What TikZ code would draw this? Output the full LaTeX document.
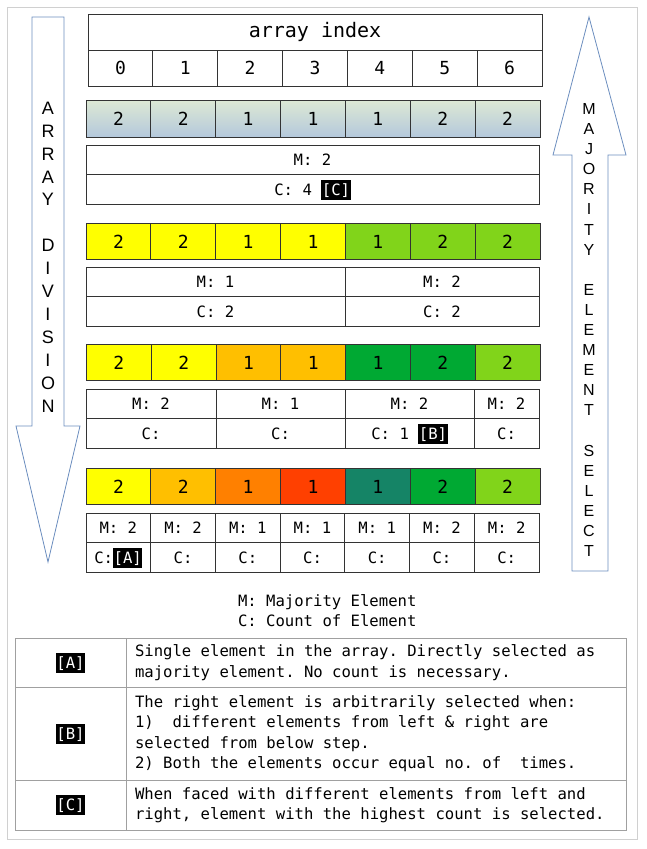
\documentclass[tikz,border=0pt]{standalone}
\usepackage{fontspec}
\setmonofont{DejaVu Sans Mono}
\newfontfamily\arrowfont{Liberation Sans}
\definecolor{lyellow}{HTML}{FFFF00}
\definecolor{lgold}{HTML}{FFBF00}
\definecolor{lorange}{HTML}{FF8000}
\definecolor{lbrick}{HTML}{FF4000}
\definecolor{lteal}{HTML}{158466}
\definecolor{lgreen}{HTML}{00A933}
\definecolor{llime}{HTML}{81D41A}
\definecolor{gtop}{HTML}{DCE8D4}
\definecolor{gbot}{HTML}{B4C8DC}
\definecolor{arrowblue}{HTML}{6C8EBF}
\definecolor{framegray}{HTML}{D0D0D0}
\definecolor{tablegray}{HTML}{A0A0A0}
\definecolor{cellline}{HTML}{333333}
\newcommand\monofont[2]{\ttfamily\fontsize{#1}{#2}\selectfont}
\newcommand\tagbox[1]{{\setlength\fboxsep{0pt}\colorbox{black}{\rule[-4.5pt]{0pt}{20pt}\kern0.6pt\textcolor{white}{#1}\kern0.6pt}}}
\begin{document}
\begin{tikzpicture}[x=1pt,y=-1pt,
  base/.style={inner sep=0pt, outer sep=0pt},
  hdcell/.style={base, draw=cellline, line width=1pt, minimum height=36pt, font=\monofont{18}{20}},
  valcell/.style={base, draw=cellline, line width=1pt, minimum width=64.857pt, minimum height=36.5pt, font=\monofont{18}{20}},
  mcell/.style={base, draw=cellline, line width=1pt, fill=white, minimum height=29.5pt, font=\monofont{15.6}{20}},
  lcell/.style={base, draw=tablegray, line width=0.9pt, font=\monofont{15.6}{20}},
  desc/.style={base, anchor=west, align=left, font=\monofont{15.6}{20.5}},
  arrowshape/.style={draw=arrowblue, line width=0.8pt, fill=white, line join=miter}
]
\useasboundingbox (0,0) rectangle (647,849);
\draw[framegray, line width=1pt] (7.5,7.5) rectangle (637.5,839.5);

% arrows
\draw[arrowshape] (32,17) -- (64,17) -- (64,426) -- (80,426) -- (48,562) -- (16,426) -- (32,426) -- cycle;
\node[base, align=center, font=\arrowfont\fontsize{18}{22.9}\selectfont] (divtext) at (48,257)
  {A\\R\\R\\A\\Y\\~\\D\\I\\V\\I\\S\\I\\O\\N};
\draw[arrowshape] (589,17) -- (626,155) -- (608,155) -- (608,571) -- (572,571) -- (572,155) -- (553,155) -- cycle;
\node[base, align=center, font=\arrowfont\fontsize{16}{20.1}\selectfont] (seltext) at (589,330)
  {M\\A\\J\\O\\R\\I\\T\\Y\\~\\E\\L\\E\\M\\E\\N\\T\\~\\S\\E\\L\\E\\C\\T};

% header
\node[hdcell, minimum width=454pt, font=\monofont{20}{22}] (hdr) at (315,32) {array index};
\foreach \v [count=\i from 0] in {0,1,2,3,4,5,6}
  \node[valcell, minimum height=36pt] (idx\i) at ({88+64.857*(\i+0.5)},68) {\v};

% row 1
\foreach \v [count=\i from 0] in {2,2,1,1,1,2,2}
  \node[valcell, top color=gtop, bottom color=gbot] (ra\i) at ({86+64.857*(\i+0.5)},119) {\v};
\node[mcell, minimum width=453pt] (ma) at (312.5,160) {M: 2};
\node[mcell, minimum width=453pt] (ca) at (312.5,189.5) {C: 4 \tagbox{[C]}};

% row 2
\foreach \v/\c [count=\i from 0] in {2/lyellow,2/lyellow,1/lyellow,1/lyellow,1/llime,2/llime,2/llime}
  \node[valcell, fill=\c] (rb\i) at ({86+64.857*(\i+0.5)},241.5) {\v};
\node[mcell, minimum width=259pt] (mb0) at (215.5,282) {M: 1};
\node[mcell, minimum width=259pt] (cb0) at (215.5,311.5) {C: 2};
\node[mcell, minimum width=194pt] (mb1) at (442,282) {M: 2};
\node[mcell, minimum width=194pt] (cb1) at (442,311.5) {C: 2};

% row 3
\foreach \v/\c [count=\i from 0] in {2/lyellow,2/lyellow,1/lgold,1/lgold,1/lgreen,2/lgreen,2/llime}
  \node[valcell, fill=\c] (rc\i) at ({86.5+64.786*(\i+0.5)},362.5) {\v};
\node[mcell, minimum width=130pt] (mc0) at (151,404) {M: 2};
\node[mcell, minimum width=130pt] (cc0) at (151,433.5) {C:};
\node[mcell, minimum width=129pt] (mc1) at (280.5,404) {M: 1};
\node[mcell, minimum width=129pt] (cc1) at (280.5,433.5) {C:};
\node[mcell, minimum width=129pt] (mc2) at (409.5,404) {M: 2};
\node[mcell, minimum width=129pt] (cc2) at (409.5,433.5) {C: 1 \tagbox{[B]}};
\node[mcell, minimum width=65pt] (mc3) at (506.5,404) {M: 2};
\node[mcell, minimum width=65pt] (cc3) at (506.5,433.5) {C:};

% row 4
\foreach \v/\c [count=\i from 0] in {2/lyellow,2/lgold,1/lorange,1/lbrick,1/lteal,2/lgreen,2/llime}
  \node[valcell, fill=\c] (rd\i) at ({86+64.857*(\i+0.5)},486.5) {\v};
\foreach \v [count=\i from 0] in {2,2,1,1,1,2,2}
  \node[mcell, minimum width=64.714pt] (md\i) at ({86+64.714*(\i+0.5)},528) {M: \v};
\node[mcell, minimum width=64.714pt] (cd0) at ({86+64.714*0.5},557.5) {C:\tagbox{[A]}};
\foreach \i in {1,...,6}
  \node[mcell, minimum width=64.714pt] (cd\i) at ({86+64.714*(\i+0.5)},557.5) {C:};

% legend
\node[base, anchor=west, align=left, font=\monofont{15.6}{20}] (legend) at (238,611)
  {M: Majority Element\\C: Count of Element};

% legend table
\node[lcell, minimum width=111pt, minimum height=49pt] (ta) at (70.5,662.5) {\tagbox{[A]}};
\node[lcell, minimum width=500pt, minimum height=49pt] (da) at (376,662.5) {};
\node[desc] (dta) at (135,662.5)
  {Single element in the array. Directly selected as\\majority element. No count is necessary.};
\node[lcell, minimum width=111pt, minimum height=93pt] (tb) at (70.5,733.5) {\tagbox{[B]}};
\node[lcell, minimum width=500pt, minimum height=93pt] (db) at (376,733.5) {};
\node[desc] (dtb) at (135,733.5)
  {The right element is arbitrarily selected when:\\1)\ \ different elements from left \& right are\\selected from below step.\\2) Both the elements occur equal no. of\ \ times.};
\node[lcell, minimum width=111pt, minimum height=50pt] (tc) at (70.5,805) {\tagbox{[C]}};
\node[lcell, minimum width=500pt, minimum height=50pt] (dc) at (376,805) {};
\node[desc] (dtc) at (135,805)
  {When faced with different elements from left and\\right, element with the highest count is selected.};
\end{tikzpicture}
\end{document}
